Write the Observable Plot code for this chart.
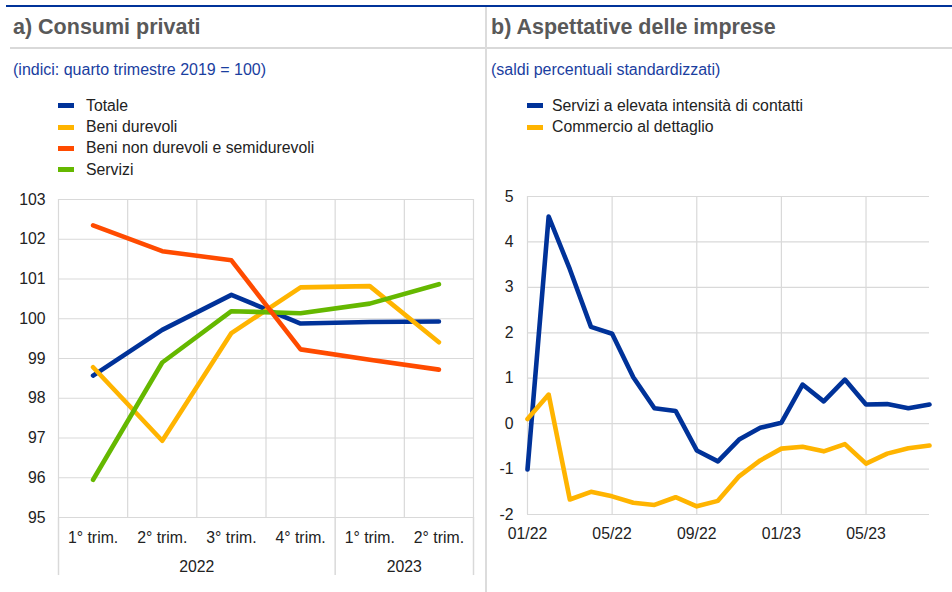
<!DOCTYPE html>
<html>
<head>
<meta charset="utf-8">
<script src="https://cdn.jsdelivr.net/npm/d3@7"></script>
<script src="https://cdn.jsdelivr.net/npm/@observablehq/plot@0.6"></script>
<style>
  body { margin: 0; background: #fff; font-family: "Liberation Sans", Arial, sans-serif; color: #222; }
  #page { position: relative; width: 952px; height: 592px; overflow: hidden; background: #fff; }
  .abs { position: absolute; }
  .title { font-size: 21.5px; font-weight: bold; color: #595959; line-height: 21px; white-space: nowrap; }
  .subtitle { font-size: 16px; color: #1a3ea0; line-height: 16px; white-space: nowrap; }
  .legend { font-size: 15.8px; color: #222; }
  .legend .row { display: flex; align-items: center; height: 21.4px; white-space: nowrap; }
  .legend .sw { width: 16px; height: 5px; flex: none; }
  #chartA, #chartB { position: absolute; }
  svg { overflow: visible; }
</style>
</head>
<body>
<div id="page">
  <div class="abs" style="left:6px;top:5px;width:946px;height:2px;background:#003299"></div>
  <div class="abs" style="left:10px;top:47px;width:942px;height:2px;background:#d9d9d9"></div>
  <div class="abs" style="left:485px;top:7px;width:2px;height:585px;background:#dcdcdc"></div>
  <div class="abs title" style="left:13px;top:17px">a) Consumi privati</div>
  <div class="abs title" style="left:491px;top:17px">b) Aspettative delle imprese</div>
  <div class="abs subtitle" style="left:13px;top:62px">(indici: quarto trimestre 2019 = 100)</div>
  <div class="abs subtitle" style="left:491px;top:62px">(saldi percentuali standardizzati)</div>
  <div class="abs legend" id="legendA" style="left:58px;top:95px"></div>
  <div class="abs legend" id="legendB" style="left:527px;top:95px"></div>
  <div id="chartA" style="left:0px;top:185px"></div>
  <div id="chartB" style="left:486px;top:185px"></div>
</div>
<script>
// ---------- Panel a) data ----------
const quarters = ["1° trim.", "2° trim.", "3° trim.", "4° trim.", "1° trim.", "2° trim."];
const quarterYears = ["2022", "2022", "2022", "2022", "2023", "2023"];
const totale = [98.57, 99.72, 100.60, 99.88, 99.92, 99.93];
const beniDurevoli = [98.78, 96.93, 99.64, 100.79, 100.82, 99.41];
const beniNonDurevoli = [102.35, 101.70, 101.47, 99.23, 98.97, 98.72];
const servizi = [95.95, 98.90, 100.19, 100.14, 100.38, 100.87];
const seriesA = ["Totale", "Beni durevoli", "Beni non durevoli e semidurevoli", "Servizi"];
const coloursA = ["#003299", "#ffb400", "#ff4b00", "#65b800"];
const yTicksA = [95, 96, 97, 98, 99, 100, 101, 102, 103];
const drawOrderA = ["Totale", "Beni durevoli", "Servizi", "Beni non durevoli e semidurevoli"];

// ---------- Panel b) data ----------
const months = ["01/22","02/22","03/22","04/22","05/22","06/22","07/22","08/22","09/22","10/22","11/22","12/22",
                "01/23","02/23","03/23","04/23","05/23","06/23","07/23","08/23"];
const serviziContatti = [-1.01, 4.56, 3.40, 2.13, 1.98, 1.02, 0.34, 0.28, -0.59, -0.83, -0.35, -0.09,
                         0.02, 0.86, 0.49, 0.97, 0.42, 0.43, 0.34, 0.42];
const commercio = [0.10, 0.64, -1.67, -1.50, -1.60, -1.74, -1.79, -1.62, -1.82, -1.70, -1.16, -0.81,
                   -0.55, -0.51, -0.61, -0.45, -0.88, -0.66, -0.54, -0.48];
const seriesB = ["Servizi a elevata intensità di contatti", "Commercio al dettaglio"];
const coloursB = ["#003299", "#ffb400"];
const yTicksB = [-2, -1, 0, 1, 2, 3, 4, 5];
const xTickLabelsB = ["01/22", "05/22", "09/22", "01/23", "05/23"];

const fontFamily = '"Liberation Sans", Arial, sans-serif';
const gridColour = "#d9d9d9";

// ---------- Legends ----------
function legend(el, names, colours) {
  const box = document.getElementById(el);
  names.forEach((n, k) => {
    const row = document.createElement("div");
    row.className = "row";
    const sw = document.createElement("div");
    sw.className = "sw";
    sw.style.background = colours[k];
    const t = document.createElement("span");
    t.textContent = n;
    t.style.marginLeft = el === "legendA" ? "12px" : "9px";
    row.appendChild(sw); row.appendChild(t);
    box.appendChild(row);
  });
}
legend("legendA", seriesA, coloursA);
legend("legendB", seriesB, coloursB);

// ---------- Chart a) ----------
const valuesA = [totale, beniDurevoli, beniNonDurevoli, servizi];
const rowsA = [];
drawOrderA.forEach(s => {
  const k = seriesA.indexOf(s);
  quarters.forEach((q, i) => rowsA.push({ series: s, i, value: valuesA[k][i] }));
});
const bandEdges = d3.range(quarters.length + 1).map(i => i - 0.5);
const years = Array.from(new Set(quarterYears));
const yearInfo = years.map(y => {
  const idx = quarterYears.map((v, i) => v === y ? i : -1).filter(i => i >= 0);
  return { year: y, center: d3.mean(idx), start: d3.min(idx) - 0.5, end: d3.max(idx) + 0.5 };
});
const yearEdges = Array.from(new Set(yearInfo.flatMap(d => [d.start, d.end])));
const yMinA = d3.min(yTicksA);

const chartA = Plot.plot({
  width: 480, height: 400,
  marginLeft: 58, marginRight: 7, marginTop: 14, marginBottom: 68,
  style: { fontFamily, fontSize: "15.5px", color: "#222", background: "transparent" },
  x: { type: "linear", domain: [-0.5, quarters.length - 0.5], axis: null },
  y: { domain: [yMinA, d3.max(yTicksA)], axis: null },
  color: { domain: seriesA, range: coloursA },
  marks: [
    Plot.ruleY(yTicksA, { stroke: gridColour, strokeWidth: 1.2 }),
    Plot.ruleX(bandEdges, { stroke: gridColour, strokeWidth: 1.2 }),
    Plot.ruleX(yearEdges, { y1: yMinA, y2: yMinA - 1.46, stroke: gridColour, strokeWidth: 1.5, clip: false }),
    Plot.axisY(yTicksA, { tickSize: 0, tickPadding: 13, tickFormat: d => String(d), fontSize: "15.8px", label: null }),
    Plot.text(quarters, { x: (d, i) => i, frameAnchor: "bottom", lineAnchor: "middle", dy: 20, text: d => d, fontSize: "15.8px", fill: "#222" }),
    Plot.text(yearInfo, { x: "center", frameAnchor: "bottom", lineAnchor: "middle", dy: 49, text: "year", fontSize: "15.8px", fill: "#222" }),
    Plot.line(rowsA, { x: "i", y: "value", z: "series", stroke: "series", strokeWidth: 4.6, strokeLinejoin: "round" })
  ]
});
document.getElementById("chartA").appendChild(chartA);

// ---------- Chart b) ----------
const rowsB = [];
[serviziContatti, commercio].forEach((vals, k) =>
  months.forEach((m, i) => rowsB.push({ series: seriesB[k], i, value: vals[i] })));
const tickIdxB = xTickLabelsB.map(l => months.indexOf(l));

const chartB = Plot.plot({
  width: 466, height: 400,
  marginLeft: 41, marginRight: 23, marginTop: 11, marginBottom: 71,
  style: { fontFamily, fontSize: "15.5px", color: "#222", background: "transparent" },
  x: { type: "linear", domain: [0, months.length - 1], axis: null },
  y: { domain: [d3.min(yTicksB), d3.max(yTicksB)], axis: null },
  color: { domain: seriesB, range: coloursB },
  marks: [
    Plot.ruleY(yTicksB, { stroke: gridColour, strokeWidth: 1.2 }),
    Plot.ruleX(tickIdxB, { stroke: gridColour, strokeWidth: 1.2 }),
    Plot.axisY(yTicksB, { tickSize: 0, tickPadding: 14, tickFormat: d => String(d), fontSize: "15.8px", label: null }),
    Plot.text(xTickLabelsB, { x: (d, i) => tickIdxB[i], frameAnchor: "bottom", lineAnchor: "middle", dy: 19, text: d => d, fontSize: "15.8px", fill: "#222" }),
    Plot.line(rowsB, { x: "i", y: "value", z: "series", stroke: "series", strokeWidth: 4.6, strokeLinejoin: "round" })
  ]
});
document.getElementById("chartB").appendChild(chartB);
</script>
</body>
</html>
